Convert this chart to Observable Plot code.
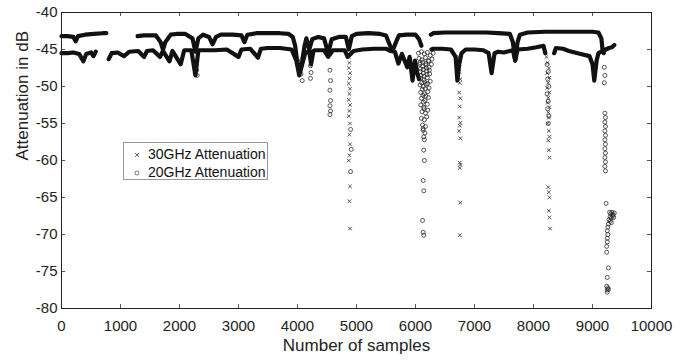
<!DOCTYPE html>
<html><head><meta charset="utf-8">
<script src="https://cdn.jsdelivr.net/npm/d3@7"></script>
<script src="https://cdn.jsdelivr.net/npm/@observablehq/plot@0.6"></script>
<style>
body{margin:0;background:#fff;font-family:"Liberation Sans",Arial,sans-serif;}
#wrap{position:relative;width:688px;height:363px;overflow:hidden;}
#legend{position:absolute;left:123px;top:142px;width:145px;height:38px;border:1px solid #999;background:#fff;box-sizing:border-box;font-size:14px;color:#111;}
.row{position:absolute;left:0;height:18px;line-height:18px;white-space:nowrap;}
.row svg{position:absolute;left:8px;top:5px;}
.row span{position:absolute;left:24px;top:0;}
</style>
</head><body>
<div id="wrap"><div id="chart"></div>
<div id="legend">
  <div class="row" style="top:2px"><svg width="10" height="10"><path d="M3,3L7,7M7,3L3,7" stroke="#444" stroke-width="0.8"/></svg><span>30GHz Attenuation</span></div>
  <div class="row" style="top:20px"><svg width="10" height="10"><circle cx="5" cy="5" r="2" fill="none" stroke="#444" stroke-width="0.7"/></svg><span>20GHz Attenuation</span></div>
</div>
</div>
<script>
const xTicks = [0,1000,2000,3000,4000,5000,6000,7000,8000,9000,10000];
const yTicks = [-80,-75,-70,-65,-60,-55,-50,-45,-40];

// 20 GHz: upper band (sample index, dB); NaN = gap
const band20X = [0,100,200,240,280,400,550,700,760,800,1290,1400,1500,1600,1680,1720,1760,1850,1950,2100,2220,2270,2320,2400,2500,2560,2620,2700,2900,3050,3100,3150,3300,3500,3700,3850,3920,3960,4000,4040,4080,4120,4150,4200,4250,4350,4450,4520,4580,4700,4820,4870,4920,5000,5200,5400,5500,5570,5610,5680,5720,5850,6000,6060,6100,6150,6260,6300,6500,6800,7000,7200,7400,7600,7650,7690,7730,7770,7900,8200,8500,8800,9000,9100,9150,9170,9190];
const band20Y = [-43.2,-43.2,-43.3,-43.9,-43.2,-43.0,-42.9,-42.8,-42.8,NaN,-43.2,-43.1,-43.1,-43.1,-44.0,-45.0,-44.0,-43.0,-42.9,-42.9,-43.5,-45.3,-43.5,-43.0,-43.3,-44.3,-43.3,-43.0,-43.0,-43.1,-44.0,-43.0,-42.8,-42.8,-42.8,-42.9,-43.3,-44.5,-47.0,-48.0,-46.5,-44.5,-43.5,-45.0,-43.6,-43.3,-43.5,-45.5,-43.6,-43.3,-43.3,-45.0,-43.2,-42.9,-42.8,-42.9,-43.1,-44.5,-45.2,-43.8,-43.1,-43.0,-43.0,-43.6,-44.5,NaN,-43.0,-42.8,-42.7,-42.7,-42.7,-42.7,-42.8,-42.9,-44.0,-46.5,-44.0,-43.0,-42.7,-42.6,-42.6,-42.6,-42.6,-42.7,-43.5,-45.0,-45.5];

// 30 GHz: lower band
const band30X = [0,100,200,300,370,420,500,540,580,600,800,850,950,1060,1150,1300,1400,1450,1550,1670,1720,1830,1880,2020,2080,2200,2270,2320,2400,2600,2800,3000,3050,3200,3330,3380,3500,3700,3900,3980,4030,4080,4130,4200,4230,4270,4300,4450,4520,4600,4800,4850,4950,5100,5300,5500,5580,5650,5710,5770,5860,5900,5950,5990,6030,6060,6150,6270,6300,6450,6600,6680,6710,6740,6780,6850,7000,7150,7240,7290,7340,7400,7500,7650,7690,7730,7900,8050,8170,8200,8250,8350,8380,8500,8600,8800,8950,9000,9030,9070,9100,9200,9280,9330,9370];
const band30Y = [-45.5,-45.5,-45.4,-45.6,-46.6,-45.6,-45.4,-45.9,-45.3,NaN,-46.3,-45.5,-45.4,-45.9,-45.3,-45.2,-46.0,-45.2,-45.1,-46.0,-45.2,-46.6,-45.2,-47.0,-45.1,-45.1,-48.5,-45.1,-45.1,-45.1,-45.0,-46.0,-45.0,-44.9,-46.1,-44.9,-44.8,-44.8,-45.0,-46.5,-48.5,-47.0,-45.5,-45.2,-47.0,-45.2,-45.1,-45.1,-46.0,-45.1,-45.1,-46.0,-45.2,-45.0,-44.9,-44.9,-45.2,-45.3,-46.9,-45.6,-47.4,-46.0,-49.2,-46.5,-48.2,-49.0,NaN,-45.0,-44.9,-44.9,-45.0,-46.0,-49.2,-47.0,-45.5,-45.0,-45.0,-45.1,-45.5,-48.2,-45.5,-45.3,-45.4,-45.1,-46.5,-45.0,-44.9,-44.7,-44.5,-45.5,NaN,-45.5,-44.8,-44.9,-45.2,-45.6,-45.9,-47.0,-49.2,-46.5,-45.5,-45.1,-44.8,-44.7,-44.4];

// 20 GHz scattered dip samples (circles)
const dip20X = [2280,2290,2300, 4000,4020,4040,4060,4080, 4220,4230,4220, 4550,4560,4550,4560,4550,4560,4550, 4900,4910,4900,
 6050,6100,6150,6200,6250,6300, 6060,6110,6170,6220,6280, 6070,6120,6180,6230,6270, 6080,6130,6190,6240, 6090,6140,6200,6250, 6080,6130,6180,6230, 6090,6150,6210, 6100,6160,6220, 6090,6140,6200, 6110,6170,6210, 6100,6150,6190, 6120,6170,6130,6160,6140,6150,6130, 6140,6150,6130,6140,6120,6130,6140,
 6075,6125,6175,6225,6085,6135,6185,6235,6095,6145,6195,6105,6155,6205,6115,6165,6125,6175,6135,6145,
 8230,8250,8240,8260,8230,8250,8240,8260,8250,
 9200,9210,9200, 9210,9220,9210,9220,9210,9220,9210,9220,9210,9220,9210,9220,9210,9220, 9230,
 9290,9310,9330,9350,9370,9300,9320,9340,9360,9280,9300,9320,9270,
 9260,9250,9260,9250,9250,9240,9240, 9270,9250, 9240,9260,9250,9270,9250];
const dip20Y = [-47.2,-47.8,-48.5, -46.5,-47.2,-47.8,-48.3,-49.2, -47.2,-48.1,-48.9, -47.8,-49.2,-50.5,-51.9,-52.6,-53.3,-53.8, -55.8,-58.5,-61.5,
 -45.5,-45.3,-45.6,-45.4,-45.8,-45.5, -46.2,-46.4,-46.1,-46.5,-46.3, -47.0,-47.3,-47.1,-47.4,-47.0, -48.0,-48.2,-47.9,-48.3, -48.9,-49.1,-48.8,-49.3, -49.8,-50.0,-49.7,-50.2, -50.8,-51.0,-50.7, -51.6,-51.9,-51.5, -52.5,-52.8,-52.4, -53.4,-53.6,-53.2, -54.3,-54.5,-54.1, -55.2,-55.4,-55.9,-56.3,-56.8,-57.2,-55.7, -58.6,-60.0,-62.7,-64.1,-68.1,-69.7,-70.1,
 -46.8,-46.7,-46.9,-46.6,-47.6,-47.7,-47.5,-47.8,-48.5,-48.6,-48.4,-49.5,-49.4,-49.6,-50.4,-50.3,-51.2,-51.3,-52.1,-53.0,
 -47.0,-48.0,-49.0,-50.0,-51.0,-52.0,-53.0,-54.0,-55.0,
 -47.4,-48.5,-49.5, -53.6,-54.2,-54.8,-55.4,-56.0,-56.6,-57.2,-57.8,-58.4,-59.0,-59.6,-60.2,-60.8,-61.4, -65.8,
 -67.0,-67.2,-67.0,-67.3,-67.1,-67.6,-67.8,-67.5,-67.7,-68.0,-68.2,-68.4,-68.6,
 -69.0,-69.5,-70.0,-70.5,-71.0,-71.6,-72.4, -74.5,-75.8, -77.0,-77.2,-77.5,-77.4,-77.8];

// 30 GHz scattered dip samples (crosses)
const dip30X = [4870,4880,4870,4890,4880,4870,4890,4880,4870,4890,4880,4870,4890,4880,4890,4880,4870,4890,4880,4890,
 6740,6750,6740,6760,6750,6740,6760,6750,6740,6760,6750,6740,6760,6750,6760,6750,6760,6750,
 8220,8240,8260,8230,8270,8250,8230,8270,8250,8240,8270,8250,8260,8240,8260,8270,8250,8260,8270,8250,8260,8270,8260,8270,8280];
const dip30Y = [-46.0,-46.8,-47.5,-48.2,-48.9,-49.6,-50.3,-51.0,-51.8,-52.5,-53.3,-54.0,-55.0,-56.5,-57.8,-59.3,-60.0,-63.5,-65.5,-69.2,
 -46.0,-47.0,-48.0,-49.0,-49.5,-50.8,-51.6,-52.7,-54.2,-54.9,-55.3,-56.0,-57.0,-60.3,-60.6,-61.0,-65.7,-70.1,
 -46.0,-46.8,-47.5,-48.2,-48.8,-49.5,-50.2,-50.8,-51.5,-52.2,-52.8,-53.5,-54.2,-55.0,-56.0,-56.8,-57.3,-58.6,-59.6,-63.6,-64.3,-65.0,-66.8,-67.7,-69.2];

const fmt = d => String(d);
const chart = Plot.plot({
  width: 688, height: 363,
  marginLeft: 61, marginRight: 37, marginTop: 12, marginBottom: 55,
  style: {fontFamily: "'Liberation Sans', Arial, sans-serif", fontSize: "15px", color: "#222", background: "#fff"},
  x: {domain: [0, 10000]},
  y: {domain: [-80, -40]},
  marks: [
    Plot.axisX({ticks: xTicks, tickSize: 0, tickPadding: 12, tickFormat: fmt, label: null}),
    Plot.axisY({ticks: yTicks, tickSize: 0, tickPadding: 4, tickFormat: fmt, label: null}),
    Plot.tickX(xTicks, {x: d => d, insetTop: 292, stroke: "#555"}),
    Plot.tickX(xTicks, {x: d => d, insetBottom: 292, stroke: "#555"}),
    Plot.tickY(yTicks, {y: d => d, insetRight: 586, stroke: "#555"}),
    Plot.tickY(yTicks, {y: d => d, insetLeft: 586, stroke: "#555"}),
    Plot.line(band20Y, {x: band20X, y: band20Y, stroke: "#111", strokeWidth: 4.2, strokeLinejoin: "round", strokeLinecap: "round"}),
    Plot.line(band30Y, {x: band30X, y: band30Y, stroke: "#111", strokeWidth: 4.2, strokeLinejoin: "round", strokeLinecap: "round"}),
    Plot.dot(dip20Y, {x: dip20X, y: dip20Y, r: 2, stroke: "#222", strokeWidth: 0.75, fill: "none"}),
    Plot.dot(dip30Y, {x: dip30X, y: dip30Y, symbol: "times", r: 1.8, stroke: "#222", strokeWidth: 0.75}),
    Plot.frame({stroke: "#222"}),
    Plot.text(["Number of samples"], {frameAnchor: "bottom", dy: 42, fontSize: 17, fill: "#222"}),
    Plot.text(["Attenuation in dB"], {frameAnchor: "left", dx: -39, rotate: -90, fontSize: 17, fill: "#222"})
  ]
});
document.getElementById("chart").appendChild(chart);
</script>
</body></html>
